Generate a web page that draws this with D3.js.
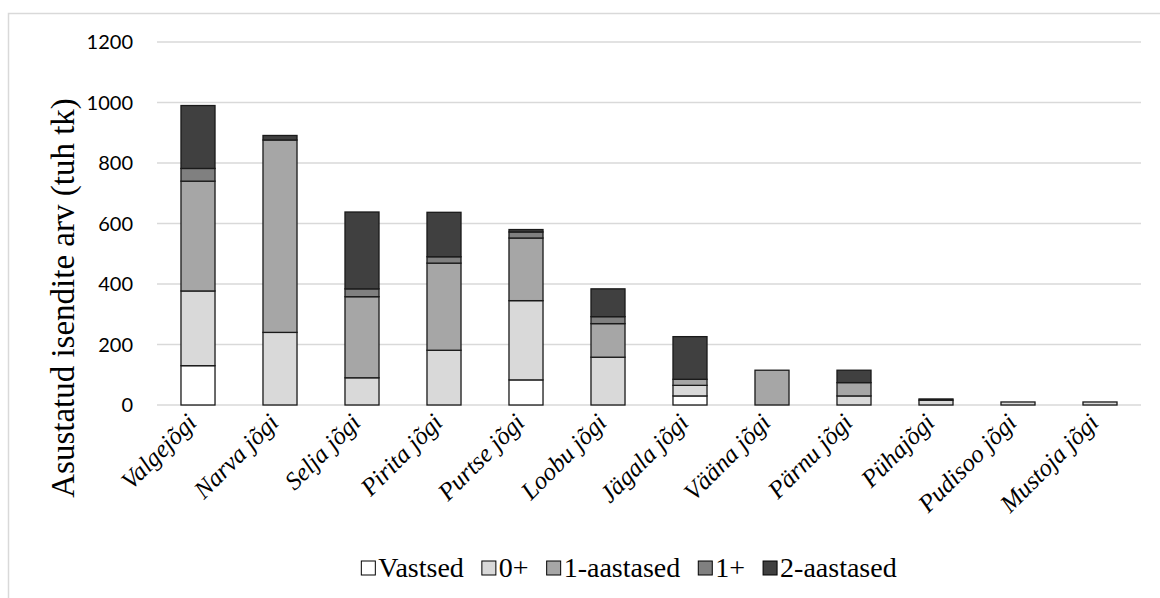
<!DOCTYPE html>
<html>
<head>
<meta charset="utf-8">
<script src="https://cdn.jsdelivr.net/npm/d3@7"></script>
<style>
  html, body { margin: 0; padding: 0; background: #fff; }
  svg { display: block; }
  .serif { font-family: "Liberation Serif", Tinos, "Times New Roman", "DejaVu Serif", serif; }
  .sans { font-family: Lato, "Open Sans", sans-serif; }
</style>
</head>
<body>
<svg id="chart" width="1160" height="598"></svg>
<script>
// Rivers (categories)
const rivers = ["Valgejõgi", "Narva jõgi", "Selja jõgi", "Pirita jõgi", "Purtse jõgi", "Loobu jõgi",
  "Jägala jõgi", "Vääna jõgi", "Pärnu jõgi", "Pühajõgi", "Pudisoo jõgi", "Mustoja jõgi"];

// Stocked individuals by age group (thousand pcs)
const vastsed      = [130,   0,   0,   0,  83,   0,  30,   0,   0,  0,  0,  0];
const nullPluss    = [247, 240,  90, 181, 262, 158,  35,   0,  30, 16, 10, 10];
const yksAastased  = [363, 636, 268, 288, 207, 111,  20, 115,  44,  0,  0,  0];
const yksPluss     = [ 42,   0,  26,  21,  20,  23,   0,   0,   0,  0,  0,  0];
const kaksAastased = [208,  15, 254, 147,   8,  92, 141,   0,  41,  4,  0,  0];

const seriesNames  = ["Vastsed", "0+", "1-aastased", "1+", "2-aastased"];
const seriesValues = [vastsed, nullPluss, yksAastased, yksPluss, kaksAastased];
const seriesColors = ["#ffffff", "#d9d9d9", "#a6a6a6", "#808080", "#404040"];

const yTicks = [0, 200, 400, 600, 800, 1000, 1200];
const yTitle = "Asustatud isendite arv (tuh tk)";

const svg = d3.select("#chart");
const plot = { left: 157, right: 1141, top: 42, bottom: 405 };

// Outer chart frame (only top and left edges fall inside the canvas)
svg.append("path")
  .attr("d", "M8.5,598 V13.5 H1160")
  .attr("fill", "none")
  .attr("stroke", "#d9d9d9")
  .attr("stroke-width", 1.5);

const x = d3.scaleBand().domain(rivers).range([plot.left, plot.right]).paddingInner(0.585).paddingOuter(0.2925);
const y = d3.scaleLinear().domain([0, 1200]).range([plot.bottom, plot.top]);

// Gridlines
svg.append("g")
  .selectAll("line")
  .data(yTicks)
  .join("line")
  .attr("x1", plot.left).attr("x2", plot.right)
  .attr("y1", d => y(d)).attr("y2", d => y(d))
  .attr("stroke", "#d9d9d9")
  .attr("stroke-width", 1.5);

// Y tick labels
svg.append("g")
  .selectAll("text")
  .data(yTicks)
  .join("text")
  .attr("class", "sans")
  .attr("x", 133)
  .attr("y", d => y(d))
  .attr("dy", "0.35em")
  .attr("text-anchor", "end")
  .attr("font-size", 20)
  .attr("fill", "#000")
  .text(d => d);

// Stacked bars
const rows = rivers.map((r, i) => {
  const o = { river: r };
  seriesNames.forEach((s, k) => { o[s] = seriesValues[k][i]; });
  return o;
});
const stacked = d3.stack().keys(seriesNames)(rows);

svg.append("g")
  .selectAll("g")
  .data(stacked)
  .join("g")
  .attr("fill", (d, i) => seriesColors[i])
  .selectAll("rect")
  .data(d => d.filter(p => p[1] - p[0] > 0))
  .join("rect")
  .attr("x", d => x(d.data.river))
  .attr("width", x.bandwidth())
  .attr("y", d => y(d[1]))
  .attr("height", d => y(d[0]) - y(d[1]))
  .attr("stroke", "#1a1a1a")
  .attr("stroke-width", 1.3);

// Category labels, rotated
svg.append("g")
  .selectAll("text")
  .data(rivers)
  .join("text")
  .attr("class", "serif")
  .attr("transform", d => `translate(${x(d) + x.bandwidth() / 2},${plot.bottom + 19}) rotate(-45)`)
  .attr("text-anchor", "end")
  .attr("font-style", "italic")
  .attr("font-size", 25)
  .attr("fill", "#000")
  .text(d => d);

// Y axis title
svg.append("text")
  .attr("class", "serif")
  .attr("transform", "translate(63,298) rotate(-90)")
  .attr("text-anchor", "middle")
  .attr("dy", "0.32em")
  .attr("font-size", 33)
  .attr("fill", "#000")
  .text(yTitle);

// Legend
const legend = svg.append("g").attr("transform", "translate(0,568)");
const boxSize = 14, boxGap = 3, itemGap = 18;
let cursor = 0;
seriesNames.forEach((name, i) => {
  const g = legend.append("g");
  g.append("rect")
    .attr("x", 0).attr("y", -boxSize / 2)
    .attr("width", boxSize).attr("height", boxSize)
    .attr("fill", seriesColors[i])
    .attr("stroke", "#000").attr("stroke-width", 1);
  const t = g.append("text")
    .attr("class", "serif")
    .attr("x", boxSize + boxGap)
    .attr("dy", "0.33em")
    .attr("font-size", 28)
    .attr("fill", "#000")
    .text(name);
  const w = boxSize + boxGap + t.node().getComputedTextLength();
  g.attr("transform", `translate(${cursor},0)`);
  cursor += w + itemGap;
});
const legendWidth = cursor - itemGap;
legend.attr("transform", `translate(${629 - legendWidth / 2},568)`);
</script>
</body>
</html>
